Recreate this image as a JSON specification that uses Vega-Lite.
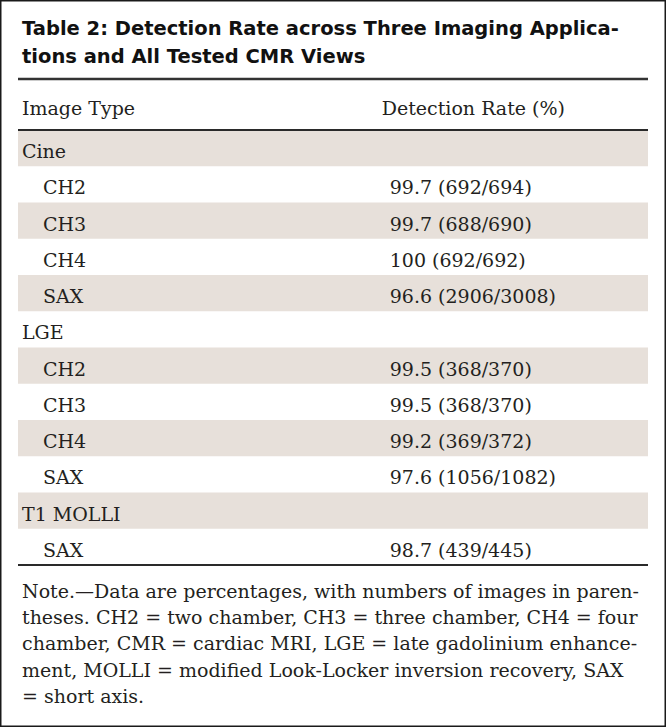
{
  "$schema": "https://vega.github.io/schema/vega-lite/v6.json",
  "width": 666,
  "height": 727,
  "autosize": "none",
  "padding": 0,
  "background": "#ffffff",
  "config": {
    "view": {"stroke": "#1a1a1a", "strokeWidth": 3}
  },
  "datasets": {
    "rows": [
      {"row": 0, "level": 0, "type": "Cine", "rate": ""},
      {"row": 1, "level": 1, "type": "CH2", "rate": "99.7 (692/694)"},
      {"row": 2, "level": 1, "type": "CH3", "rate": "99.7 (688/690)"},
      {"row": 3, "level": 1, "type": "CH4", "rate": "100 (692/692)"},
      {"row": 4, "level": 1, "type": "SAX", "rate": "96.6 (2906/3008)"},
      {"row": 5, "level": 0, "type": "LGE", "rate": ""},
      {"row": 6, "level": 1, "type": "CH2", "rate": "99.5 (368/370)"},
      {"row": 7, "level": 1, "type": "CH3", "rate": "99.5 (368/370)"},
      {"row": 8, "level": 1, "type": "CH4", "rate": "99.2 (369/372)"},
      {"row": 9, "level": 1, "type": "SAX", "rate": "97.6 (1056/1082)"},
      {"row": 10, "level": 0, "type": "T1 MOLLI", "rate": ""},
      {"row": 11, "level": 1, "type": "SAX", "rate": "98.7 (439/445)"}
    ],
    "header": [{"type": "Image Type", "rate": "Detection Rate (%)"}],
    "title": [{"lines": ["Table 2: Detection Rate across Three Imaging Applica-", "tions and All Tested CMR Views"]}],
    "note": [{"lines": [
      "Note.—Data are percentages, with numbers of images in paren-",
      "theses. CH2 = two chamber, CH3 = three chamber, CH4 = four",
      "chamber, CMR = cardiac MRI, LGE = late gadolinium enhance-",
      "ment, MOLLI = modified Look-Locker inversion recovery, SAX",
      "= short axis."
    ]}]
  },
  "layer": [
    {
      "data": {"name": "rows"},
      "transform": [{"filter": "datum.row % 2 == 0"}],
      "mark": {"type": "rule", "strokeWidth": 36.25, "strokeCap": "butt", "color": "#e7e0da"},
      "encoding": {
        "x": {"datum": 0, "type": "quantitative", "scale": {"domain": [0, 1], "range": [18, 648]}, "axis": null},
        "x2": {"datum": 1},
        "y": {"field": "row", "type": "quantitative", "scale": {"domain": [-0.5, 11.5], "range": [130, 565]}, "axis": null}
      }
    },
    {
      "data": {"values": [{}]},
      "mark": {"type": "rule", "strokeWidth": 2.5, "color": "#333333"},
      "encoding": {
        "x": {"datum": 0, "type": "quantitative", "scale": {"domain": [0, 1], "range": [18, 648]}, "axis": null},
        "x2": {"datum": 1},
        "y": {"datum": -1.907, "type": "quantitative", "scale": {"domain": [-0.5, 11.5], "range": [130, 565]}, "axis": null}
      }
    },
    {
      "data": {"values": [{}]},
      "mark": {"type": "rule", "strokeWidth": 2, "color": "#2a2a2a"},
      "encoding": {
        "x": {"datum": 0, "type": "quantitative", "scale": {"domain": [0, 1], "range": [18, 648]}, "axis": null},
        "x2": {"datum": 1},
        "y": {"datum": -0.5, "type": "quantitative", "scale": {"domain": [-0.5, 11.5], "range": [130, 565]}, "axis": null}
      }
    },
    {
      "data": {"values": [{}]},
      "mark": {"type": "rule", "strokeWidth": 2, "color": "#2a2a2a"},
      "encoding": {
        "x": {"datum": 0, "type": "quantitative", "scale": {"domain": [0, 1], "range": [18, 648]}, "axis": null},
        "x2": {"datum": 1},
        "y": {"datum": 11.5, "type": "quantitative", "scale": {"domain": [-0.5, 11.5], "range": [130, 565]}, "axis": null}
      }
    },
    {
      "data": {"name": "title"},
      "mark": {"type": "text", "font": "DejaVu Sans", "fontWeight": "bold", "fontSize": 19.5, "lineHeight": 28, "align": "left", "baseline": "alphabetic", "dx": 4, "dy": -4.4, "color": "#111111"},
      "encoding": {
        "x": {"datum": 0, "type": "quantitative", "scale": {"domain": [0, 1], "range": [18, 648]}, "axis": null},
        "y": {"datum": -3, "type": "quantitative", "scale": {"domain": [-0.5, 11.5], "range": [130, 565]}, "axis": null},
        "text": {"field": "lines"}
      }
    },
    {
      "data": {"name": "header"},
      "mark": {"type": "text", "font": "DejaVu Serif", "fontSize": 19, "color": "#231f20", "align": "left", "baseline": "alphabetic", "dx": 4, "dy": 3},
      "encoding": {
        "x": {"datum": 0, "type": "quantitative", "scale": {"domain": [0, 1], "range": [18, 648]}, "axis": null},
        "y": {"datum": -1, "type": "quantitative", "scale": {"domain": [-0.5, 11.5], "range": [130, 565]}, "axis": null},
        "text": {"field": "type"}
      }
    },
    {
      "data": {"name": "header"},
      "mark": {"type": "text", "font": "DejaVu Serif", "fontSize": 19, "color": "#231f20", "align": "left", "baseline": "alphabetic", "dx": -8, "dy": 3},
      "encoding": {
        "x": {"datum": 0.59, "type": "quantitative", "scale": {"domain": [0, 1], "range": [18, 648]}, "axis": null},
        "y": {"datum": -1, "type": "quantitative", "scale": {"domain": [-0.5, 11.5], "range": [130, 565]}, "axis": null},
        "text": {"field": "rate"}
      }
    },
    {
      "data": {"name": "rows"},
      "transform": [{"filter": "datum.level == 0"}],
      "mark": {"type": "text", "font": "DejaVu Serif", "fontSize": 19, "color": "#231f20", "align": "left", "baseline": "alphabetic", "dx": 4, "dy": 10},
      "encoding": {
        "x": {"datum": 0, "type": "quantitative", "scale": {"domain": [0, 1], "range": [18, 648]}, "axis": null},
        "y": {"field": "row", "type": "quantitative", "scale": {"domain": [-0.5, 11.5], "range": [130, 565]}, "axis": null},
        "text": {"field": "type"}
      }
    },
    {
      "data": {"name": "rows"},
      "transform": [{"filter": "datum.level == 1"}],
      "mark": {"type": "text", "font": "DejaVu Serif", "fontSize": 19, "color": "#231f20", "align": "left", "baseline": "alphabetic", "dx": 25, "dy": 10},
      "encoding": {
        "x": {"datum": 0, "type": "quantitative", "scale": {"domain": [0, 1], "range": [18, 648]}, "axis": null},
        "y": {"field": "row", "type": "quantitative", "scale": {"domain": [-0.5, 11.5], "range": [130, 565]}, "axis": null},
        "text": {"field": "type"}
      }
    },
    {
      "data": {"name": "rows"},
      "mark": {"type": "text", "font": "DejaVu Serif", "fontSize": 19, "color": "#231f20", "align": "left", "baseline": "alphabetic", "dy": 10},
      "encoding": {
        "x": {"datum": 0.59, "type": "quantitative", "scale": {"domain": [0, 1], "range": [18, 648]}, "axis": null},
        "y": {"field": "row", "type": "quantitative", "scale": {"domain": [-0.5, 11.5], "range": [130, 565]}, "axis": null},
        "text": {"field": "rate"}
      }
    },
    {
      "data": {"name": "note"},
      "mark": {"type": "text", "font": "DejaVu Serif", "fontSize": 19, "color": "#231f20", "align": "left", "baseline": "alphabetic", "dx": 4, "dy": 14.6, "lineHeight": 26.3},
      "encoding": {
        "x": {"datum": 0, "type": "quantitative", "scale": {"domain": [0, 1], "range": [18, 648]}, "axis": null},
        "y": {"datum": 12, "type": "quantitative", "scale": {"domain": [-0.5, 11.5], "range": [130, 565]}, "axis": null},
        "text": {"field": "lines"}
      }
    }
  ]
}
